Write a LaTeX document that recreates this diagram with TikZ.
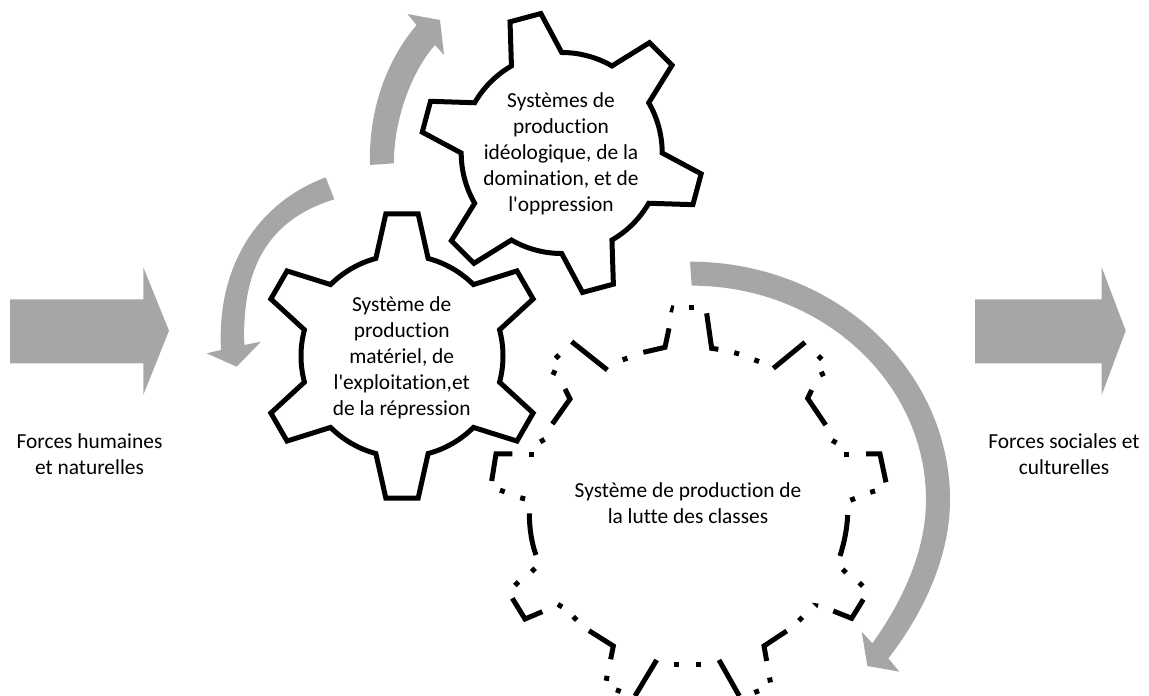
\documentclass[tikz,border=0pt]{standalone}
\usepackage{fontspec}
\newfontfamily\labelfont{Carlito}[Ligatures=NoCommon]
\definecolor{arrowgray}{HTML}{A6A6A6}
\tikzset{
  gearline/.style={draw=black,line width=5pt,line join=miter},
  brokenline/.style={draw=black,line width=5pt,line join=miter,line cap=butt},
  grayshape/.style={fill=arrowgray,draw=none},
  label/.style={align=center,font=\labelfont\fontsize{21.4}{26}\selectfont,text=black,inner sep=0pt},
  zoomed/.style={x=0.33333pt,y=-0.33333pt}
}
\newcommand{\gearpath}[5]{% cx, cy, start angle, root radius, tip radius
  \draw[gearline,shift={(#1,#2)}] ({#3-15}:#4)
    foreach \a in {0,60,120,180,240,300}{
      -- ({#3+\a-6.5}:#5) -- ({#3+\a+6.5}:#5) -- ({#3+\a+15}:#4)
      arc[start angle={#3+\a+15},end angle={#3+\a+45},radius=#4]
    } -- cycle;
}
\begin{document}
\begin{tikzpicture}[x=1pt,y=1pt]
\useasboundingbox (0,0) rectangle (1149,696);

% block arrows
\fill[grayshape] (10,396.7) -- (143.3,396.7) -- (143.3,428.7) -- (169,365.3) -- (143.3,301) -- (143.3,332.7) -- (10,332.7) -- cycle;
\fill[grayshape] (975,396.7) -- (1101.7,396.7) -- (1101.7,428.7) -- (1125.7,365.3) -- (1101.7,301) -- (1101.7,332.7) -- (975,332.7) -- cycle;

% curved arrow, top
\begin{scope}[shift={(200,696)},zoomed]
\fill[grayshape] (510,495) .. controls (505,330) and (560,180) .. (650,75)
  -- (622,42) -- (720,60) -- (732,165) -- (705,135)
  .. controls (630,220) and (580,370) .. (582,490) -- cycle;
\end{scope}

% curved arrow, left
\begin{scope}[shift={(200,526)},zoomed]
\fill[grayshape] (377,22) .. controls (170,100) and (50,290) .. (63,540)
  -- (20,550) -- (110,590) -- (183,515) -- (133,525)
  .. controls (125,300) and (200,150) .. (403,88) -- cycle;
\end{scope}

% curved arrow, right
\begin{scope}[shift={(640,446)},zoomed]
\fill[grayshape] (150,35) .. controls (581,35) and (930,355) .. (930,750)
  .. controls (930,920) and (850,1090) .. (745,1225)
  -- (778,1265) -- (682,1248) -- (665,1145) -- (697,1180)
  .. controls (790,1050) and (858,900) .. (858,750)
  .. controls (858,395) and (543,107) .. (155,107) -- cycle;
\end{scope}

% solid gears
\gearpath{402}{340}{90}{101}{143}
\gearpath{561.7}{543}{105}{100.5}{141}

% broken gear
\begin{scope}[shift={(480,406)},zoomed]
\draw[brokenline] (680,70) -- (695,175) -- (715,178);
\draw[brokenline] (880,235) -- (975,157);
\draw[brokenline] (995,300) -- (983,325) -- (1000,350) -- (1037,405);
\draw[brokenline] (1158,492) -- (1200,492) -- (1218,577);
\draw[brokenline] (1103,675) .. controls (1101,720) and (1092,760) .. (1080,798);
\draw[brokenline] (1150,928) -- (1115,985) -- (1060,963);
\draw[brokenline] (920,1023) -- (852,1068) -- (860,1113);
\draw[brokenline] (778,1218) -- (717,1110);
\draw[brokenline] (530,1110) -- (465,1218);
\draw[brokenline] (392,1108) -- (400,1068) -- (327,1022);
\draw[brokenline] (187,965) -- (135,987) -- (97,925);
\draw[brokenline] (168,795) .. controls (155,760) and (148,715) .. (148,670);
\draw[brokenline] (35,573) -- (48,492) -- (97,492);
\draw[brokenline] (217,402) -- (270,327) -- (255,297);
\draw[brokenline] (275,155) -- (382,240);
\draw[brokenline] (490,187) -- (555,172) -- (567,115);
\fill (568,66) -- (574,45) -- (583,48) -- (579,68) -- cycle;
\fill (995,938) -- (1016,941) -- (1012,955) -- cycle;
\foreach \px/\py/\r in {
  633/52/0, 770/190/-17, 830/212/-20, 1020/203/45, 1027/252/25,
  1063/455/-30, 1100/495/0, 1178/605/17, 1118/628/20, 1093/843/45,
  1143/883/45, 962/987/45, 870/1170/10, 830/1205/20, 655/1123/0,
  590/1123/0, 415/1202/-20, 380/1165/-10, 285/985/-45, 240/947/-30,
  110/881/45, 160/840/45, 128/625/-15, 67/603/-20, 153/495/0,
  187/452/30, 222/248/-25, 232/200/45, 435/207/17}{
  \fill[shift={(\px,\py)},rotate=\r] (-7.5,-7.5) rectangle (7.5,7.5);
}
\end{scope}

% labels
\node[label] (ideo) at (561,542.5) {Systèmes de\\production\\idéologique, de la\\domination, et de\\l'oppression};
\node[label] (mat) at (401.7,338) {Système de\\production\\matériel, de\\l'exploitation,et\\de la répression};
\node[label] (lutte) at (688,192.5) {Système de production de\\la lutte des classes};
\node[label] (hum) at (89.5,242) {Forces humaines\\et naturelles};
\node[label] (soc) at (1064,242) {Forces sociales et\\culturelles};
\end{tikzpicture}
\end{document}
